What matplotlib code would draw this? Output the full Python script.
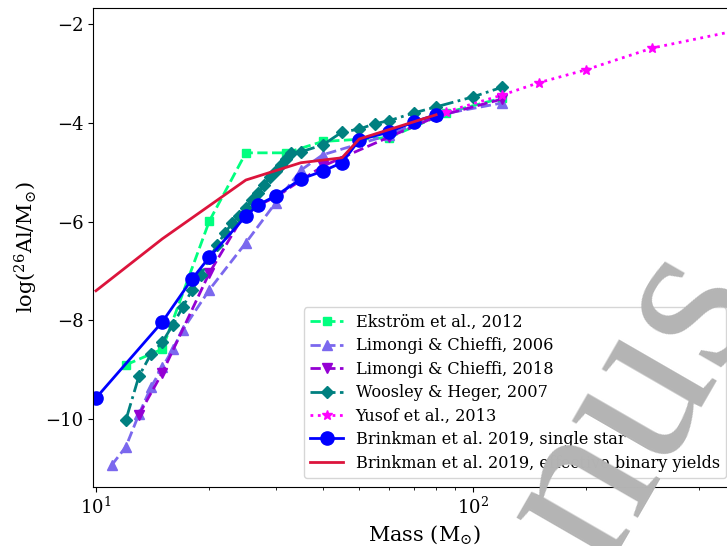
import matplotlib
matplotlib.use("Agg")
import matplotlib.pyplot as plt

plt.rcParams['font.family'] = ['DejaVu Serif', 'DejaVu Sans']
plt.rcParams['mathtext.fontset'] = 'dejavuserif'

# Ekström et al., 2012
ek_m = [12, 15, 20, 25, 32, 40, 60, 85, 120]
ek_y = [-8.90, -8.58, -5.99, -4.61, -4.61, -4.38, -4.30, -3.80, -3.50]

# Limongi & Chieffi, 2006
lc06_m = [11, 12, 13, 14, 15, 16, 17, 20, 25, 30, 35, 40, 60, 80, 120]
lc06_y = [-10.93, -10.56, -9.90, -9.35, -8.95, -8.58, -8.19, -7.38, -6.43,
          -5.62, -4.96, -4.65, -4.25, -3.85, -3.60]

# Limongi & Chieffi, 2018
lc18_m = [13, 15, 20, 25, 30, 40, 60, 80, 120]
lc18_y = [-9.91, -9.06, -7.04, -5.80, -5.50, -4.88, -4.29, -3.88, -3.52]

# Woosley & Heger, 2007
wh_m = [12, 13, 14, 15, 16, 17, 18, 19, 20, 21, 22, 23, 24, 25, 26, 27, 28,
        29, 30, 31, 32, 33, 35, 40, 45, 50, 55, 60, 70, 80, 100, 120]
wh_y = [-10.02, -9.13, -8.68, -8.44, -8.09, -7.73, -7.38, -7.08, -6.74,
        -6.47, -6.23, -6.03, -5.88, -5.72, -5.56, -5.42, -5.26, -5.10,
        -4.98, -4.86, -4.73, -4.61, -4.59, -4.45, -4.19, -4.13, -4.02,
        -3.96, -3.80, -3.68, -3.48, -3.28]

# Yusof et al., 2013
yu_m = [85, 120, 150, 200, 300, 500]
yu_y = [-3.78, -3.44, -3.19, -2.93, -2.49, -2.14]

# Brinkman et al. 2019, single star
bs_m = [10, 15, 18, 20, 25, 27, 30, 35, 40, 45, 50, 60, 70, 80]
bs_y = [-9.57, -8.03, -7.16, -6.72, -5.89, -5.66, -5.48, -5.14, -4.98,
        -4.81, -4.35, -4.19, -3.98, -3.84]

# Brinkman et al. 2019, effective binary yields
bb_m = [10, 15, 25, 35, 45, 50, 80]
bb_y = [-7.40, -6.35, -5.16, -4.81, -4.71, -4.33, -3.84]

fig = plt.figure(figsize=(7.27, 5.46), dpi=100)
ax = fig.add_axes([93/727, 1-487/546, 662/727, 479/546])

lw = 2
ax.plot(ek_m, ek_y, '--', color='springgreen', marker='s', ms=6, lw=lw,
        label='Ekström et al., 2012')
ax.plot(lc06_m, lc06_y, '--', color='mediumslateblue', marker='^', ms=7, lw=lw,
        label='Limongi & Chieffi, 2006')
ax.plot(lc18_m, lc18_y, '--', color='darkviolet', marker='v', ms=7, lw=lw,
        label='Limongi & Chieffi, 2018')
ax.plot(wh_m, wh_y, '-.', color='teal', marker='D', ms=6, lw=lw,
        label='Woosley & Heger, 2007')
ax.plot(yu_m, yu_y, ':', color='magenta', marker='*', ms=7, lw=lw,
        label='Yusof et al., 2013')
ax.plot(bs_m, bs_y, '-', color='blue', marker='o', ms=9.5, lw=lw,
        label='Brinkman et al. 2019, single star')
ax.plot(bb_m, bb_y, '-', color='crimson', lw=lw,
        label='Brinkman et al. 2019, effective binary yields')

ax.set_xscale('log')
ax.set_xlim(9.82, 562)
ax.set_ylim(-11.37, -1.68)
ax.set_yticks([-10, -8, -6, -4, -2])
ax.tick_params(labelsize=13)
ax.set_xlabel(r'Mass (M$_{\odot}$)', fontsize=15)
ax.set_ylabel(r'log($^{26}$Al/M$_{\odot}$)', fontsize=15)

ax.legend(loc='lower left', bbox_to_anchor=(304/727, 1-478/546),
          bbox_transform=fig.transFigure, borderaxespad=0, fontsize=11.6,
          labelspacing=0.4)

fig.text(635/727, 1-405/546, 'nus', fontsize=165, rotation=60,
         color='#b4b4b4', ha='center', va='center',
         family=['Liberation Serif', 'DejaVu Serif'], zorder=100)

fig.savefig('out.png', dpi=100)
